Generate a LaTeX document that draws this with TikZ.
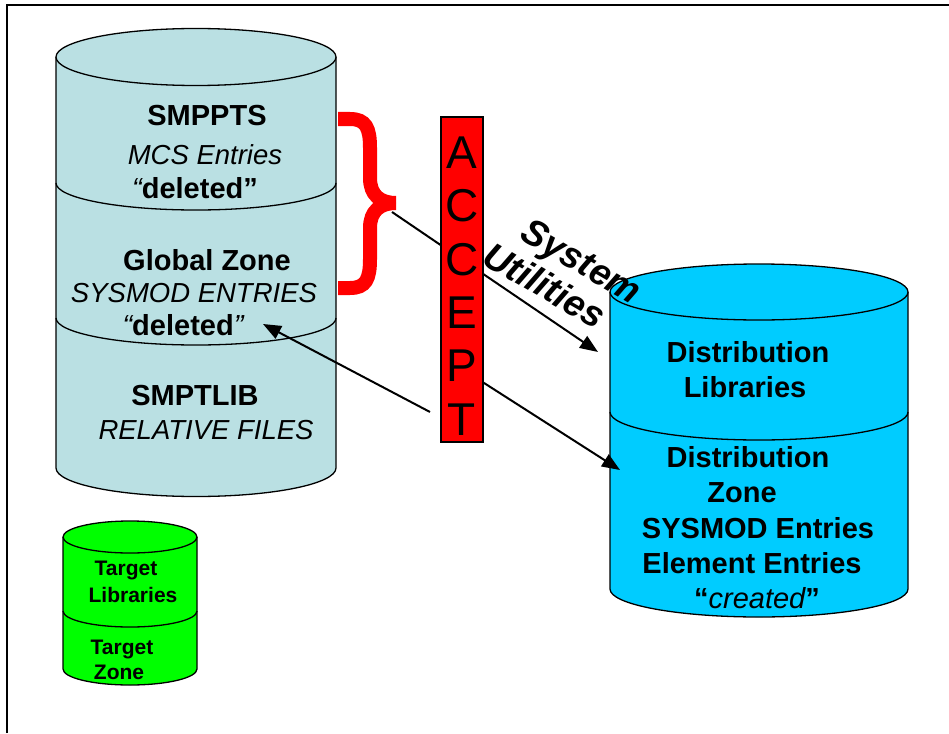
\documentclass[tikz,border=0pt]{standalone}
\usepackage{fontspec}
\setmainfont{Liberation Sans}
\usetikzlibrary{arrows.meta}
\definecolor{lblue}{HTML}{BAE0E3}
\definecolor{cblue}{HTML}{00CCFF}
\definecolor{lgreen}{HTML}{00FF00}
\newcommand{\mycyl}[6]{%
  \filldraw[fill=#6, line width=1.3pt] (#1-#2,#3) -- (#1-#2,#4) arc[start angle=180,end angle=0,x radius=#2,y radius=#5] -- (#1+#2,#3);
  \filldraw[fill=#6, line width=1.3pt] (#1,#3) ellipse[x radius=#2, y radius=#5];
}
\newcommand{\mydiv}[4]{%
  \draw[line width=1.3pt] (#1-#2,#3) arc[start angle=180,end angle=0,x radius=#2,y radius=#4];
}
\tikzset{
  bl/.style={anchor=base, inner sep=0pt, font=\fontsize{29}{33}\selectfont\bfseries},
  it/.style={anchor=base, inner sep=0pt, font=\fontsize{27.5}{31}\selectfont\itshape},
  br/.style={anchor=base, inner sep=0pt, font=\fontsize{29}{33}\selectfont\bfseries},
  bg/.style={anchor=base, inner sep=0pt, font=\fontsize{21}{24}\selectfont\bfseries},
  arr/.style={line width=2pt, -{Triangle[length=18pt,width=14pt]}},
  brace/.style={draw=red, line width=14pt, line cap=butt},
  su/.style={inner sep=0pt, rotate=-30, font=\fontsize{37}{37}\selectfont\bfseries\itshape}
}
\begin{document}
\begin{tikzpicture}[x=1pt,y=-1pt]
\useasboundingbox (0,0) rectangle (949,733);
\fill[white] (0,0) rectangle (949,733);
% frame
\draw[line width=1.5pt] (7,733) -- (7,5) -- (949,5);
% cylinders
\mycyl{196}{140}{57}{468}{28.5}{lblue}
\mydiv{196}{140}{183}{27}
\mydiv{196}{140}{318}{27}
\mycyl{759}{149}{292}{589}{28}{cblue}
\mydiv{759}{149}{412}{28}
\mycyl{130}{67}{537}{669}{16}{lgreen}
\mydiv{130}{67}{611}{16}
% left texts
\node[bl] (smppts) at (207,125) {SMPPTS};
\node[it] (mcs) at (205,164) {MCS Entries};
\node[bl] (del1) at (195,198) {{\mdseries\itshape “}deleted”};
\node[bl] (glob) at (207,270) {Global Zone};
\node[it] (sysm) at (194,302) {SYSMOD ENTRIES};
\node[bl] (del2) at (183,335) {{\mdseries\itshape “}deleted{\mdseries\itshape ”}};
\node[bl] (smptlib) at (195,405) {SMPTLIB};
\node[it] (rel) at (206,439) {RELATIVE FILES};
% right texts
\node[br] (dl1) at (748,362) {Distribution};
\node[br] (dl2) at (745,397) {Libraries};
\node[br] (dz1) at (748,467) {Distribution};
\node[br] (dz2) at (742,502) {Zone};
\node[br] (dz3) at (758,538) {SYSMOD Entries};
\node[br] (dz4) at (752,573) {Element Entries};
\node[br] (dz5) at (757,608) {“{\mdseries\itshape created}”};
% green texts
\node[bg] (tl1) at (126,575.5) {Target};
\node[bg] (tl2) at (133,602.5) {Libraries};
\node[bg] (tz1) at (122,654.5) {Target};
\node[bg] (tz2) at (119,679.5) {Zone};
% arrows
\coordinate (bracetip) at (392,212);
\coordinate (distlib) at (598,352);
\coordinate (accL) at (430,412);
\coordinate (globdel) at (263,324);
\coordinate (accR) at (470,374);
\coordinate (distzone) at (620,470);
\draw[arr] (bracetip) -- (distlib);
\draw[arr] (accL) -- (globdel);
\draw[arr] (accR) -- (distzone);
% accept box
\node[draw, fill=red, line width=1.2pt, minimum width=42pt, minimum height=325pt, inner sep=0pt] (accept) at (462,279.5) {};
\node[anchor=north, inner sep=0pt, align=center, font=\fontsize{46}{53.4}\selectfont] (accepttext) at (462,136.5) {A\\C\\C\\E\\P\\T};
% brace
\draw[brace] (338,119) -- (350,119) .. controls (366,119) and (370,128) .. (370,148) -- (370,178) .. controls (370,195) and (380,203) .. (396,203);
\draw[brace] (338,288) -- (350,288) .. controls (366,288) and (370,279) .. (370,259) -- (370,228) .. controls (370,211) and (380,203) .. (396,203);
% system utilities
\node[su] (system) at (580,264) {System};
\node[su] (utilities) at (545,285) {Utilities};
\end{tikzpicture}
\end{document}
